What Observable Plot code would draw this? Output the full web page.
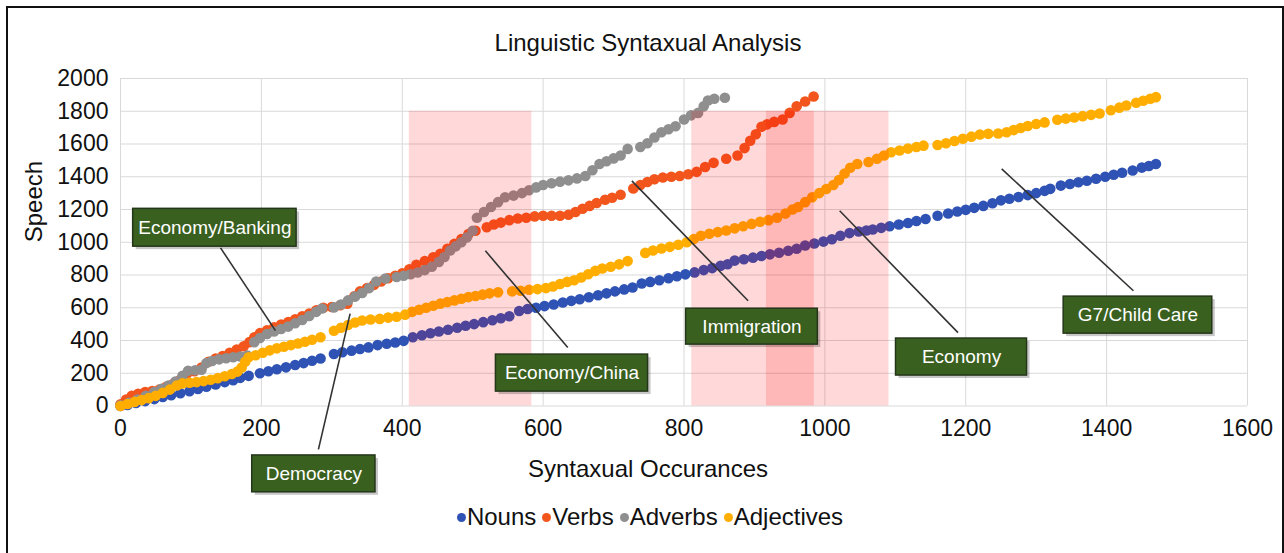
<!DOCTYPE html>
<html>
<head>
<meta charset="utf-8">
<script src="https://cdn.jsdelivr.net/npm/d3@7"></script>
<script src="https://cdn.jsdelivr.net/npm/@observablehq/plot@0.6"></script>
<style>
  html, body { margin: 0; padding: 0; background: #fff; }
  #wrap { position: relative; width: 1284px; height: 553px; overflow: hidden; font-family: "Liberation Sans", Arial, sans-serif; }
  #frame { position: absolute; left: 6px; top: 6px; width: 1274px; height: 545px; border: 2px solid #111; border-bottom: 1px solid #ddd; box-sizing: content-box; }
  #title { position: absolute; left: 0; top: 29px; width: 1296px; text-align: center; font-size: 24px; line-height: 28px; color: #111; }
  #chart { position: absolute; left: 0; top: 60px; }
  #legend { position: absolute; left: 0; top: 503px; width: 1300px; text-align: center; font-size: 24px; line-height: 28px; color: #111; }
  .item { display: inline-block; margin: 0 3px; }
  .sw { display: inline-block; width: 9px; height: 9px; border-radius: 50%; margin-right: 1px; vertical-align: 3px; }
</style>
</head>
<body>
<div id="wrap">
  <div id="frame"></div>
  <div id="title"></div>
  <div id="chart"></div>
  <div id="legend"></div>
</div>
<script>
const chartTitle = "Linguistic Syntaxual Analysis";
const xLabel = "Syntaxual Occurances";
const yLabel = "Speech";
const xTicks = [0, 200, 400, 600, 800, 1000, 1200, 1400, 1600];
const yTicks = [0, 200, 400, 600, 800, 1000, 1200, 1400, 1600, 1800, 2000];
const seriesNames = ["Nouns", "Verbs", "Adverbs", "Adjectives"];
const seriesColors = ["#2f52b5", "#f2561d", "#8f8f8f", "#ffae00"];

const nouns = [[0,0],[10,6],[22,18],[35,30],[48,42],[60,55],[72,66],[85,78],[98,90],[110,104],[122,118],[135,132],[148,146],[160,158],[170,172],[182,184],[198,200],[210,212],[222,224],[235,236],[248,250],[260,262],[272,276],[284,290],
[303,318],[315,328],[328,338],[340,348],[352,358],[365,372],[378,380],[390,388],[402,398],[415,420],[428,432],[440,444],[452,455],[465,466],[478,478],[490,490],[502,500],[515,512],[528,524],[540,536],[552,548],
[566,580],[578,592],[590,600],[602,610],[615,620],[628,632],[640,642],[652,652],[665,664],[678,676],[690,688],[702,700],[715,712],[727,724],
[740,748],[752,758],[765,768],[778,780],[790,792],[802,804],[815,816],[828,830],[840,842],[852,856],[862,866],
[872,888],[885,896],[898,906],[910,916],[922,926],[935,936],[948,948],[960,960],[972,980],[985,992],[998,1004],[1010,1018],[1022,1040],[1035,1056],[1048,1066],[1059,1072],
[1068,1078],[1080,1088],[1092,1098],[1105,1108],[1118,1118],[1130,1130],[1143,1142],
[1160,1162],
[1175,1176],[1188,1188],[1200,1198],[1212,1210],[1225,1222],[1238,1238],[1250,1256],[1262,1266],[1275,1276],[1288,1288],[1300,1300],[1312,1314],[1320,1326],
[1335,1346],[1348,1356],[1360,1366],[1372,1376],[1385,1388],[1398,1400],[1410,1412],[1422,1424],[1437,1438],[1450,1456],[1460,1466],[1470,1478]];

const verbs = [[0,10],[8,40],[16,62],[25,75],[35,85],[45,92],[55,100],[65,118],[75,135],[85,160],[95,200],[105,212],[115,235],[125,270],[135,290],[145,305],[155,325],[165,345],[175,365],[183,390],[190,420],[198,445],[208,462],[218,480],[228,498],[238,512],[248,530],[258,548],[268,565],[278,585],[288,600],
[300,605],[312,615],[322,625],[332,670],[340,700],[350,720],[360,740],[370,760],[380,780],[390,795],[400,810],[410,835],[420,862],[432,885],[444,908],[454,930],[464,960],[474,990],[484,1020],[494,1050],[504,1070],
[520,1092],[530,1108],[540,1120],[552,1135],[564,1145],[576,1150],[588,1158],[600,1162],[612,1162],[624,1162],[636,1168],[646,1185],[656,1205],[666,1222],[676,1240],[688,1260],[698,1272],[710,1290],
[728,1328],[738,1350],[748,1368],[758,1385],[770,1395],[782,1400],[794,1405],[806,1415],[818,1430],[830,1460],[842,1485],
[860,1510],[876,1530],
[886,1575],[894,1620],[902,1660],[910,1705],[918,1720],[928,1735],[940,1750],[950,1790],[960,1830],[972,1860],[984,1890]];

const adverbs = [[0,5],[12,20],[24,40],[36,62],[48,85],[58,105],[68,125],[78,150],[88,185],[96,215],[106,218],[115,222],[122,262],[130,275],[140,285],[150,292],[160,298],[170,302],[180,308],
[190,390],[198,415],[208,440],[218,455],[228,470],[238,485],[248,505],[258,525],[268,550],[278,575],[286,595],
[303,602],[313,620],[323,645],[333,668],[343,690],[353,720],[363,760],[376,778],
[392,788],[402,795],[412,805],[422,815],[432,830],[442,850],[452,880],[460,910],[468,950],[476,975],[484,1000],[492,1030],[500,1070],
[506,1150],[516,1185],[526,1215],[536,1245],[546,1275],[558,1285],[570,1300],[580,1318],[590,1335],[600,1350],[612,1360],[624,1370],[636,1378],[648,1390],[660,1405],[670,1440],[680,1478],[690,1495],[700,1512],[710,1530],[720,1570],
[738,1582],[748,1605],[758,1640],[768,1672],[778,1690],[788,1708],
[800,1750],[810,1775],[820,1790],[828,1830],[834,1866],[843,1876],
[858,1882]];

const adjectives = [[0,0],[10,12],[20,25],[30,36],[40,48],[50,62],[60,80],[70,100],[80,125],[88,138],[98,142],[108,146],[118,152],[128,160],[138,170],[148,182],[158,195],[166,210],[172,235],[177,270],[182,298],[192,310],[202,325],[212,340],[222,352],[232,362],[242,372],[252,382],[262,392],[272,405],[284,420],
[303,460],[313,478],[323,495],[333,510],[343,522],[355,528],[368,532],[380,540],[392,545],[404,558],[414,575],[424,588],[434,600],[444,612],[454,625],[464,635],[474,645],[484,655],[494,665],[504,672],[514,680],[524,688],[536,694],
[556,700],[568,704],[580,710],[592,714],[604,720],[614,730],[624,745],[634,758],[644,768],[654,785],[664,805],[674,825],[684,840],[696,850],[708,865],[720,885],
[745,935],[756,950],[768,962],[780,972],[792,985],[804,1000],[814,1020],[824,1040],[836,1052],[848,1062],[860,1072],[872,1085],[884,1098],[896,1112],[908,1125],[920,1135],[932,1150],[944,1175],[954,1200],[962,1215],[972,1245],[982,1275],[992,1300],[1002,1325],[1012,1350],[1020,1380],[1028,1420],[1036,1455],[1046,1478],
[1062,1490],[1074,1510],[1084,1530],[1094,1550],[1106,1560],[1118,1572],[1130,1582],[1140,1590],
[1160,1594],[1172,1605],[1184,1618],[1196,1632],[1208,1645],[1220,1658],[1232,1662],[1246,1664],
[1258,1672],[1268,1685],[1278,1698],[1288,1710],[1300,1722],[1312,1732],
[1330,1748],[1342,1755],[1354,1762],[1366,1770],[1378,1778],[1390,1786],
[1406,1806],[1418,1822],[1428,1835],
[1442,1852],[1452,1864],[1462,1876],[1470,1886]];

const shadeStarts = [410, 811, 917];
const shadeEnds = [584, 985, 1091];
const shadeTop = 1800;

const annLabels = ["Economy/Banking", "Democracy", "Economy/China", "Immigration", "Economy", "G7/Child Care"];
const annBoxX1 = [18, 187, 533, 803, 1101, 1339];
const annBoxX2 = [250, 362, 749, 990, 1287, 1550];
const annBoxY1 = [973, -527, 88, 375, 186, 442];
const annBoxY2 = [1204, -302, 314, 594, 412, 668];
const annLineX1 = [142, 281, 518, 726, 1021, 1251];
const annLineY1 = [966, -265, 948, 1375, 1192, 1448];
const annLineX2 = [220, 326, 635, 891, 1189, 1438];
const annLineY2 = [460, 564, 357, 643, 448, 704];

const allSeries = [nouns, verbs, adverbs, adjectives];
const shades = shadeStarts.map((s, i) => ({x1: s, x2: shadeEnds[i]}));
const anns = annLabels.map((label, i) => ({
  label, bx1: annBoxX1[i], bx2: annBoxX2[i], by1: annBoxY1[i], by2: annBoxY2[i],
  lx1: annLineX1[i], ly1: annLineY1[i], lx2: annLineX2[i], ly2: annLineY2[i]
}));

document.getElementById("title").textContent = chartTitle;

const dotMarks = allSeries.map((s, i) => Plot.dot(s, {x: d => d[0], y: d => d[1], r: 5.3, fill: seriesColors[i]}));

const plot = Plot.plot({
  width: 1284,
  height: 440,
  marginLeft: 120,
  marginRight: 37,
  marginTop: 18,
  marginBottom: 94.5,
  style: {fontFamily: "Liberation Sans, Arial, sans-serif", fontSize: "23px", color: "#111", background: "transparent", overflow: "visible"},
  x: {domain: [0, 1600]},
  y: {domain: [0, 2000]},
  marks: [
    Plot.gridX(xTicks, {stroke: "#d9d9d9", strokeOpacity: 1, strokeWidth: 1}),
    Plot.gridY(yTicks, {stroke: "#d9d9d9", strokeOpacity: 1, strokeWidth: 1}),
    Plot.axisX(xTicks, {tickSize: 0, tickPadding: 14, label: null, tickFormat: d => String(d)}),
    Plot.axisY(yTicks, {tickSize: 0, tickPadding: 12, label: null, tickFormat: d => String(d)}),
    ...dotMarks,
    Plot.rect(shades, {x1: "x1", x2: "x2", y1: () => 0, y2: () => shadeTop, fill: "#ff0000", fillOpacity: 0.15}),
    Plot.link(anns, {x1: "lx1", y1: "ly1", x2: "lx2", y2: "ly2", stroke: "#333", strokeWidth: 1.6}),
    Plot.rect(anns, {x1: "bx1", x2: "bx2", y1: "by1", y2: "by2", fill: "#000", fillOpacity: 0.22, dx: 3, dy: 3}),
    Plot.rect(anns, {x1: "bx1", x2: "bx2", y1: "by1", y2: "by2", fill: "#3a6020", stroke: "#24361a", strokeWidth: 1.5}),
    Plot.text(anns, {x: d => (d.bx1 + d.bx2) / 2, y: d => (d.by1 + d.by2) / 2, text: "label", fill: "#fff", fontSize: 19}),
    Plot.text([xLabel], {frameAnchor: "bottom", dx: -36, dy: 63.5, lineAnchor: "middle", text: d => d, fontSize: 24}),
    Plot.text([yLabel], {frameAnchor: "left", dx: -86, rotate: -90, lineAnchor: "middle", text: d => d, fontSize: 24})
  ]
});
document.getElementById("chart").appendChild(plot);

const legend = document.getElementById("legend");
seriesNames.forEach((name, i) => {
  const item = document.createElement("span");
  item.className = "item";
  const sw = document.createElement("span");
  sw.className = "sw";
  sw.style.background = seriesColors[i];
  item.appendChild(sw);
  item.appendChild(document.createTextNode(name));
  legend.appendChild(item);
});
</script>
</body>
</html>
